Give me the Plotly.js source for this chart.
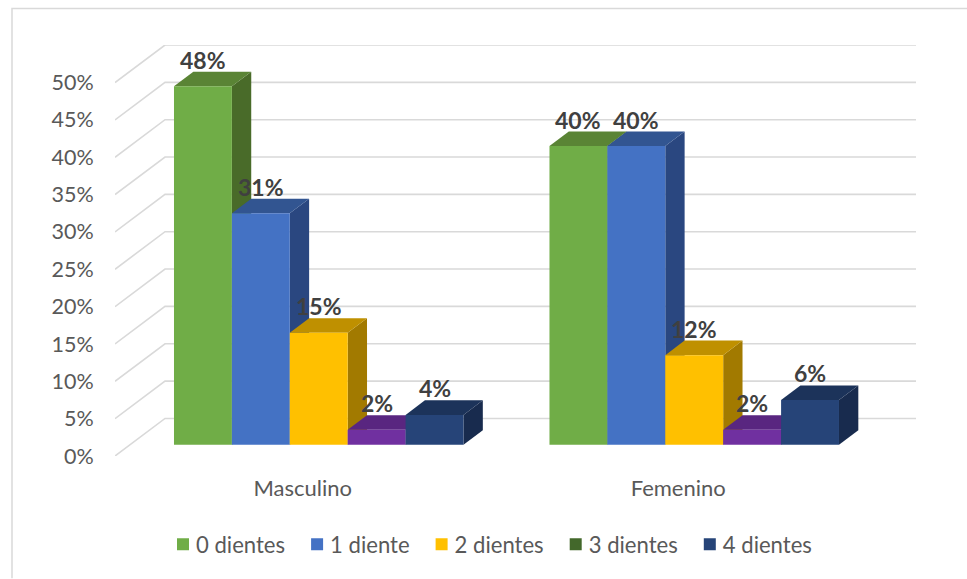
<!DOCTYPE html>
<html>
<head>
<meta charset="utf-8">
<script src="https://cdn.plot.ly/plotly-3.0.1.min.js"></script>
<style>html,body{margin:0;padding:0;background:#fff}#chart{width:967px;height:579px}</style>
</head>
<body>
<div id="chart"></div>
<script>
// Percentages per gender and number of teeth
const categories = ['Masculino', 'Femenino'];
const seriesNames = ['0 dientes', '1 diente', '2 dientes', '3 dientes', '4 dientes'];
const dientes0 = [48, 40];
const diente1 = [31, 40];
const dientes2 = [15, 12];
const dientes3 = [2, 2];
const dientes4 = [4, 6];
const seriesValues = [dientes0, diente1, dientes2, dientes3, dientes4];
const percentTicks = [0, 5, 10, 15, 20, 25, 30, 35, 40, 45, 50];

// Bar face colours: front, top, side, and the legend swatch
const frontColors = ['#70AD47', '#4472C4', '#FFC000', '#7030A0', '#264478'];
const topColors = ['#5A8435', '#325591', '#BF9000', '#592680', '#1C335A'];
const sideColors = ['#496B29', '#2A4780', '#A27A00', '#4C2070', '#182B4E'];
const legendColors = ['#70AD47', '#4472C4', '#FFC000', '#43682B', '#264478'];

// Oblique projection of the 3D box, in axis units (categories, percent)
const wallDx = 0.1332, wallDy = 5.03;
const depthDx = 0.0515, depthDy = 1.95;
const floorDy = 1.5;
const barWidth = 0.1542, groupStart = -0.3429;
const xMin = -0.5, xMax = 1.5 + wallDx;

const traces = [];

// Gridlines run up the side wall and then along the back wall
percentTicks.forEach(v => traces.push({
  type: 'scatter', mode: 'lines', showlegend: false, hoverinfo: 'skip', cliponaxis: false,
  x: [xMin, xMin + wallDx, xMax], y: [v, v + wallDy, v + wallDy],
  line: {color: '#D9D9D9', width: 1.6}
}));

// Side and top faces sit beneath the front faces, painted left to right
categories.forEach((_, c) => {
  seriesValues.forEach((vals, k) => {
    const l = c + groupStart + k * barWidth, r = l + barWidth;
    const b = floorDy, t = floorDy + vals[c];
    const face = (x, y, color) => traces.push({
      type: 'scatter', mode: 'lines', fill: 'toself', fillcolor: color,
      line: {width: 0, color: color}, showlegend: false, hoverinfo: 'skip', x, y
    });
    face([r, r + depthDx, r + depthDx, r, r], [b, b + depthDy, t + depthDy, t, b], sideColors[k]);
    face([l, r, r + depthDx, l + depthDx, l], [t, t, t + depthDy, t + depthDy, t], topColors[k]);
  });
});

// Front faces live on an overlaid subplot so they cover the neighbouring sides
seriesValues.forEach((vals, k) => {
  const differs = frontColors[k] !== legendColors[k];
  traces.push({
    type: 'bar', xaxis: 'x2', yaxis: 'y2', name: seriesNames[k], showlegend: !differs,
    x: categories.map((_, c) => c + groupStart + (k + 0.5) * barWidth),
    y: vals, base: floorDy, width: barWidth,
    marker: {color: frontColors[k], line: {width: 0}}
  });
  if (differs) {
    traces.push({
      type: 'bar', xaxis: 'x2', yaxis: 'y2', name: seriesNames[k],
      x: [null], y: [null], marker: {color: legendColors[k], line: {width: 0}}
    });
  }
});

// Value labels above each bar
const annotations = [];
seriesValues.forEach((vals, k) => categories.forEach((_, c) => annotations.push({
  x: c + groupStart + (k + 0.5) * barWidth, y: floorDy + vals[c],
  xref: 'x', yref: 'y', yshift: 26.5, showarrow: false,
  xanchor: 'center', yanchor: 'middle', text: vals[c] + '%',
  font: {family: 'Lato, sans-serif', size: 23, color: '#404040', weight: 700}
})));

const plotLeft = 115, plotRight = 916, plotTop = 44.5, plotBottom = 456.5;
const toPaperX = px => (px - plotLeft) / (plotRight - plotLeft);
const toPaperY = py => (plotBottom - py) / (plotBottom - plotTop);

const layout = {
  width: 967, height: 579,
  margin: {l: plotLeft, r: 967 - plotRight, t: plotTop, b: 579 - plotBottom, pad: 0},
  paper_bgcolor: '#fff', plot_bgcolor: 'rgba(0,0,0,0)',
  font: {family: 'Lato, sans-serif', color: '#595959', size: 21},
  barmode: 'overlay', hovermode: false,
  showlegend: true,
  legend: {
    orientation: 'h', x: toPaperX(156), xanchor: 'left', y: toPaperY(545), yanchor: 'middle',
    font: {size: 22.1, color: '#595959'}, bgcolor: 'rgba(0,0,0,0)', traceorder: 'normal'
  },
  xaxis: {
    range: [xMin, xMax], tickmode: 'array', tickvals: categories.map((_, i) => i),
    ticktext: categories, showgrid: false, zeroline: false, showline: false,
    ticks: 'outside', ticklen: 13, tickcolor: 'rgba(0,0,0,0)',
    tickfont: {size: 22, color: '#595959'}
  },
  yaxis: {
    range: [0, 50 + wallDy], tickmode: 'array', tickvals: percentTicks,
    ticktext: percentTicks.map(v => v + '%'), showgrid: false, zeroline: false, showline: false,
    ticks: 'outside', ticklen: 16, tickcolor: 'rgba(0,0,0,0)', ticklabelshift: -1.5,
    tickfont: {size: 21.5, color: '#595959'}
  },
  xaxis2: {overlaying: 'x', range: [xMin, xMax], visible: false, anchor: 'y2'},
  yaxis2: {overlaying: 'y', range: [0, 50 + wallDy], visible: false, anchor: 'x2'},
  annotations,
  shapes: [{
    type: 'path', xref: 'paper', yref: 'paper', layer: 'below',
    path: `M ${toPaperX(12)} ${toPaperY(579)} L ${toPaperX(12)} ${toPaperY(8)} L ${toPaperX(967)} ${toPaperY(8)}`,
    line: {color: '#D9D9D9', width: 1.5}
  }]
};

Plotly.newPlot('chart', traces, layout, {displayModeBar: false, staticPlot: true}).then(gd => {
  // Seat each legend swatch close to its label
  gd.querySelectorAll('.legend .legendpoints').forEach(p => p.setAttribute('transform', 'translate(7,0)'));
});
</script>
</body>
</html>
